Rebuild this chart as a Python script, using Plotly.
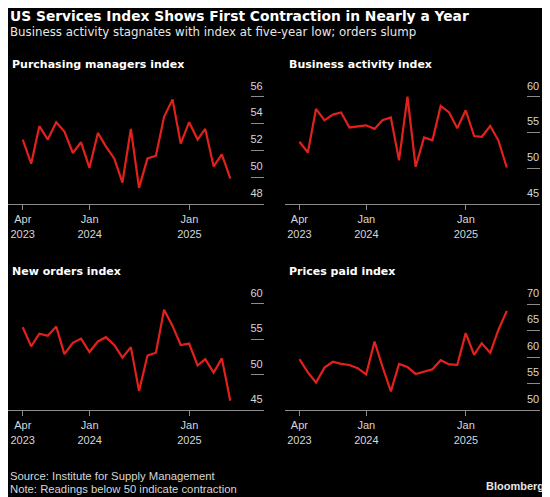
import pandas as pd
import plotly.graph_objects as go

# ---------------------------------------------------------------------------
# Data, monthly Apr 2023 - May 2025
# ---------------------------------------------------------------------------
months = pd.date_range("2023-04-30", periods=26, freq="ME")

pmi = [52.8, 51.0, 53.8, 52.8, 54.1, 53.4, 51.8, 52.6, 50.7, 53.3, 52.3, 51.4, 49.6,
       53.6, 49.2, 51.4, 51.6, 54.5, 55.8, 52.5, 54.1, 52.8, 53.6, 50.8, 51.7, 49.9]
business = [53.7, 52.2, 58.3, 56.7, 57.5, 57.8, 55.7, 55.8, 56.0, 55.5, 56.7, 57.1, 51.1,
            60.0, 50.2, 54.3, 53.9, 58.7, 57.8, 55.6, 58.1, 54.5, 54.4, 55.9, 53.9, 50.1]
new_orders = [56.7, 54.0, 55.8, 55.5, 56.8, 52.9, 54.5, 55.1, 53.2, 54.7, 55.3, 54.2, 52.4,
              53.9, 47.7, 52.7, 53.1, 59.2, 56.9, 54.2, 54.4, 51.3, 52.2, 50.3, 52.3, 46.3]
prices = [59.6, 57.1, 55.2, 58.0, 59.1, 58.7, 58.5, 57.9, 56.7, 62.9, 58.2, 53.5, 58.7,
          58.1, 56.8, 57.2, 57.7, 59.4, 58.6, 58.5, 64.5, 60.4, 62.6, 60.8, 65.1, 68.7]

panel_titles = ["Purchasing managers index", "Business activity index",
                "New orders index", "Prices paid index"]
series = [pmi, business, new_orders, prices]
y_ticks = [[48, 50, 52, 54, 56], [45, 50, 55, 60], [45, 50, 55, 60], [50, 55, 60, 65, 70]]
y_ranges = [[48, 57.69], [45, 63.17], [45, 63.11], [50, 74.15]]

x_tickvals = ["2023-04-30", "2024-01-01", "2025-01-01"]
x_ticktext = ["Apr<br>2023", "Jan<br>2024", "Jan<br>2025"]
x_range = ["2023-03-08", "2025-09-30"]

# ---------------------------------------------------------------------------
# Layout helpers (reference pixel -> paper); the page body adds an 8px margin
# ---------------------------------------------------------------------------
OFF = 8
W, H = 550 - OFF, 497 - OFF
RED = "#e3211c"
GREY = "#8c8c8c"
TXT = "#d6d6d6"
TICK_FONT = dict(family="Liberation Sans, Arial, sans-serif", size=11, color=TXT)


def px_x(p):
    return (p - OFF) / W


def px_y(p):
    return 1 - (p - OFF) / H


# panel boxes in reference pixels: (left, right, top, bottom)
boxes = [(8.3, 263.5, 74, 204), (285, 540, 74, 204),
         (8.3, 263.5, 282, 410), (285, 540, 282, 410)]
title_y = [64, 64, 271, 271]

fig = go.Figure()
layout = {}
annotations = []

for i, (vals, box) in enumerate(zip(series, boxes)):
    n = i + 1
    xa = "x" if n == 1 else f"x{n}"
    ya = "y" if n == 1 else f"y{n}"
    fig.add_trace(go.Scatter(
        x=months, y=vals, mode="lines", xaxis=xa, yaxis=ya,
        line=dict(color=RED, width=2.2), hoverinfo="skip", showlegend=False,
    ))
    left, right, top, bottom = box
    layout["xaxis" if n == 1 else f"xaxis{n}"] = dict(
        domain=[px_x(left), px_x(right)], anchor=ya, range=x_range,
        tickvals=x_tickvals, ticktext=x_ticktext, ticks="outside", ticklen=5,
        tickcolor=GREY, showline=True, linecolor=GREY, linewidth=1,
        showgrid=False, zeroline=False, tickfont=TICK_FONT,
    )
    layout["yaxis" if n == 1 else f"yaxis{n}"] = dict(
        domain=[px_y(bottom), px_y(top)], anchor=xa, range=y_ranges[i],
        side="right", tickvals=y_ticks[i], ticks="inside", ticklen=13,
        tickcolor=GREY, ticklabelposition="inside", ticklabelshift=-11,
        ticklabelstandoff=-13,
        showgrid=False, zeroline=False, showline=False, tickfont=TICK_FONT,
    )
    annotations.append(dict(
        text=f"<b>{panel_titles[i]}</b>", x=px_x(left + 1.5), y=px_y(title_y[i]),
        font=dict(family="DejaVu Sans", size=11, color="#ffffff"),
    ))

# ── Headline, subtitle, footer ──────────────────────────────────────────────
annotations += [
    dict(text="<b>US Services Index Shows First Contraction in Nearly a Year</b>",
         x=px_x(8), y=px_y(15.5), font=dict(family="DejaVu Sans", size=13.8, color="#ffffff")),
    dict(text="Business activity stagnates with index at five-year low; orders slump",
         x=px_x(8), y=px_y(31.5), font=dict(family="DejaVu Sans", size=11.8, color="#e6e6e6")),
    dict(text="Source: Institute for Supply Management",
         x=px_x(8), y=px_y(475.5), font=dict(family="Liberation Sans, Arial", size=11.3, color=TXT)),
    dict(text="Note: Readings below 50 indicate contraction",
         x=px_x(8), y=px_y(488.5), font=dict(family="Liberation Sans, Arial", size=11.3, color=TXT)),
]
for a in annotations:
    a.update(xref="paper", yref="paper", xanchor="left", yanchor="middle", showarrow=False)
annotations.append(dict(
    text="<b>Bloomberg</b>", x=px_x(545.5), y=px_y(485.7), xref="paper", yref="paper",
    xanchor="right", yanchor="middle", showarrow=False,
    font=dict(family="Liberation Sans, Arial", size=11, color="#e6e6e6"),
))

fig.update_layout(
    width=W, height=H, margin=dict(l=0, r=0, t=0, b=0),
    paper_bgcolor="#000000", plot_bgcolor="#000000",
    annotations=annotations, **layout,
)

fig.write_html("out.html")
